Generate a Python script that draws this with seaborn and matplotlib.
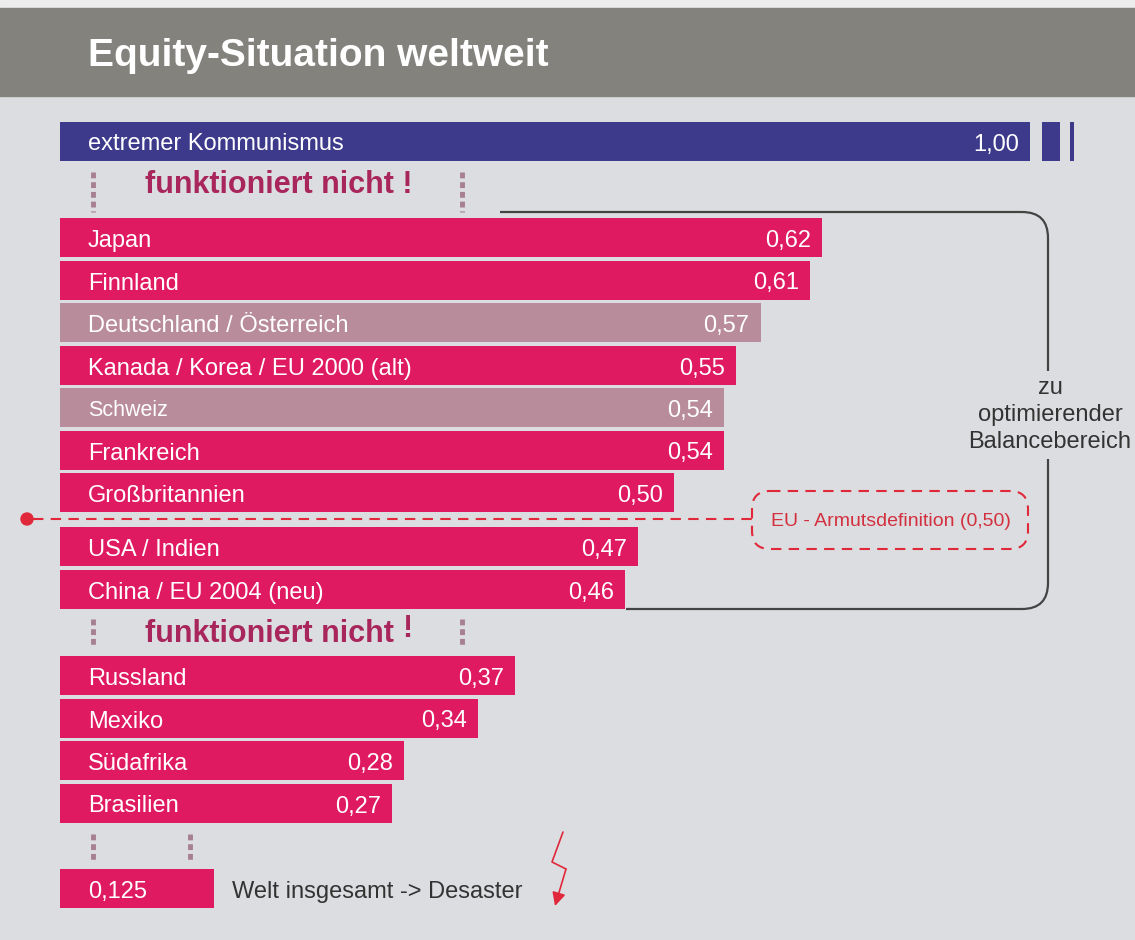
import matplotlib
matplotlib.use("Agg")
import matplotlib.pyplot as plt
from matplotlib.patches import FancyBboxPatch, PathPatch, Circle
from matplotlib.path import Path
import numpy as np
import pandas as pd
import seaborn as sns

# Daten
laender = ["extremer Kommunismus", "Japan", "Finnland", "Deutschland / Österreich",
           "Kanada / Korea / EU 2000 (alt)", "Schweiz", "Frankreich", "Großbritannien",
           "USA / Indien", "China / EU 2004 (neu)", "Russland", "Mexiko", "Südafrika",
           "Brasilien", "Welt insgesamt -> Desaster"]
werte = [1.00, 0.62, 0.61, 0.57, 0.55, 0.54, 0.54, 0.50, 0.47, 0.46, 0.37, 0.34, 0.28, 0.27, 0.125]
wert_texte = ["1,00", "0,62", "0,61", "0,57", "0,55", "0,54", "0,54", "0,50", "0,47", "0,46",
              "0,37", "0,34", "0,28", "0,27", "0,125"]
gruppe = ["extrem", "land", "land", "grau", "land", "grau", "land", "land", "land", "land",
          "land", "land", "land", "land", "land"]
farben = {"extrem": "#3d3a8c", "land": "#df1a60", "grau": "#b98c9c"}

# Layout (Pixel)
W, H = 1135, 940
X0 = 60            # Balkenanfang
PX_PRO_EINHEIT = 1229
KAPPUNG = (1030 - X0) / PX_PRO_EINHEIT   # Balken 1,00 wird abgeschnitten
zeilen_y = [141, 237.5, 280, 322.5, 365, 407.5, 450, 492.5, 546.5, 589,
            675.5, 718, 760.5, 803, 888.5]

BG = "#dcdde0"
FS = 17
sns.set_theme(style="white")
plt.rcParams["font.family"] = ["Liberation Sans", "DejaVu Sans"]

df = pd.DataFrame({"land": laender, "wert": werte, "gruppe": gruppe, "y": zeilen_y})
df["breite"] = np.minimum(df["wert"], KAPPUNG)

fig = plt.figure(figsize=(W / 100, H / 100), dpi=100)
fig.set_facecolor(BG)
ax = fig.add_axes([0, 0, 1, 1])
ax.set_facecolor(BG)

sns.barplot(data=df, x="breite", y="y", hue="gruppe", palette=farben, orient="y",
            native_scale=True, dodge=False, width=39 / 42.5, legend=False,
            saturation=1, ax=ax, errorbar=None, linewidth=0, edgecolor="none")
ax.set_xlim(-X0 / PX_PRO_EINHEIT, (W - X0) / PX_PRO_EINHEIT)
ax.set_ylim(H, 0)
ax.axis("off")

def px(x):
    return (x - X0) / PX_PRO_EINHEIT

# Beschriftungen in den Balken
for i, row in df.iterrows():
    ende = row["breite"]
    y = row["y"] + 1
    if i == len(df) - 1:
        ax.text(px(88), y, wert_texte[i], color="white", fontsize=FS,
                ha="left", va="center_baseline")
        ax.text(px(232), y, row["land"], color="#333333", fontsize=FS,
                ha="left", va="center_baseline")
        continue
    groesse = FS - 1.5 if row["land"] == "Schweiz" else FS
    ax.text(px(88), y, row["land"], color="white", fontsize=groesse,
            ha="left", va="center_baseline")
    ax.text(ende - 11 / PX_PRO_EINHEIT, y, wert_texte[i], color="white",
            fontsize=FS, ha="right", va="center_baseline")

# Overlay in Pixelkoordinaten fuer Dekoration
pix = fig.add_axes([0, 0, 1, 1])
pix.set_xlim(0, W)
pix.set_ylim(H, 0)
pix.axis("off")
pix.patch.set_alpha(0)

# Titelband
pix.axhspan(0, 8, color="#ececec", zorder=0)
pix.axhspan(8, 96, color="#83827d", zorder=0)
pix.text(88, 56, "Equity-Situation weltweit", color="white", fontsize=28,
         fontweight="bold", ha="left", va="center")

# Abbruch-Markierung am Balken 1,00
blau = farben["extrem"]
pix.add_patch(plt.Rectangle((1042, 121.5), 18, 39, color=blau, lw=0))
pix.add_patch(plt.Rectangle((1070, 121.5), 4, 39, color=blau, lw=0))

# "funktioniert nicht !"
rot_text = "#a8265c"
punkt = "#a7808f"
pix.text(145, 185, "funktioniert nicht !", color=rot_text, fontsize=22,
         fontweight="bold", ha="left", va="center")
pix.text(145, 634, "funktioniert nicht", color=rot_text, fontsize=22,
         fontweight="bold", ha="left", va="center")
pix.text(402, 629, "!", color=rot_text, fontsize=22, fontweight="bold",
         ha="left", va="center")
for x, y1, y2 in [(93, 172, 212), (462, 172, 212), (93, 619, 646), (462, 619, 646),
                  (93, 834, 862), (190, 834, 862)]:
    pix.plot([x, x], [y1, y2], color=punkt, lw=3.5, ls=(0, (1.2, 0.8)),
             solid_capstyle="butt", dash_capstyle="butt")

# Klammer "Balancebereich"
r = 26
verts = [(500, 212), (1048 - r, 212), (1048, 212), (1048, 212 + r),
         (1048, 609 - r), (1048, 609), (1048 - r, 609), (626, 609)]
codes = [Path.MOVETO, Path.LINETO, Path.CURVE3, Path.CURVE3,
         Path.LINETO, Path.CURVE3, Path.CURVE3, Path.LINETO]
pix.add_patch(PathPatch(Path(verts, codes), fill=False, edgecolor="#444444", lw=1.6))
pix.text(1050, 415, "zu\noptimierender\nBalancebereich", color="#333333", fontsize=FS,
         ha="center", va="center", linespacing=1.3,
         bbox=dict(facecolor=BG, edgecolor="none", pad=4))

# EU-Armutsgrenze
rot = "#e0283a"
pix.add_patch(Circle((27, 519), 6, color=rot, zorder=5))
pix.plot([33, 752], [519, 519], color=rot, lw=1.5, ls=(0, (5, 3.5)))
pix.add_patch(FancyBboxPatch((752, 491), 276, 58, boxstyle="round,pad=0,rounding_size=18",
                             facecolor="none", edgecolor=rot, lw=1.5, ls=(0, (5, 3.5))))
pix.text(891, 521, "EU - Armutsdefinition (0,50)", color="#d3303f", fontsize=14,
         ha="center", va="center")

# Blitz
pix.plot([563, 552, 566], [832, 862, 869], color=rot, lw=1.2)
pix.annotate("", xy=(555, 906), xytext=(566, 869),
             arrowprops=dict(arrowstyle="-|>", color=rot, lw=1.2, mutation_scale=20,
                             shrinkA=0, shrinkB=0))

fig.savefig("out.png", dpi=100, facecolor=BG)
